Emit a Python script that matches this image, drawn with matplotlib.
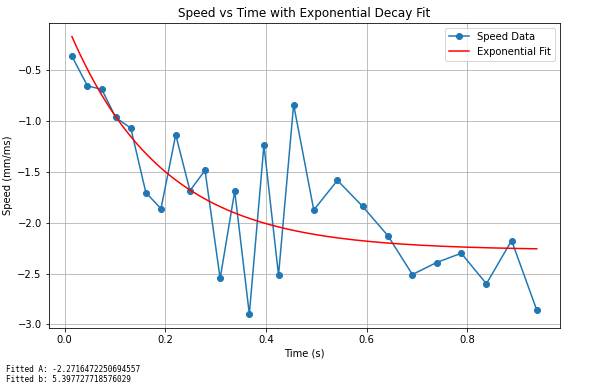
import matplotlib
matplotlib.use("Agg")
import matplotlib.pyplot as plt
import numpy as np

time_s = [0.0146, 0.0454, 0.0738, 0.1015, 0.1315, 0.1615, 0.1915, 0.2208,
          0.249, 0.279, 0.309, 0.338, 0.367, 0.396, 0.425, 0.455,
          0.495, 0.542, 0.592, 0.642, 0.691, 0.739, 0.788, 0.838, 0.888, 0.938]
speed = [-0.366, -0.657, -0.690, -0.967, -1.072, -1.706, -1.863, -1.137,
         -1.686, -1.487, -2.549, -1.690, -2.899, -1.239, -2.516, -0.840,
         -1.876, -1.585, -1.840, -2.127, -2.510, -2.392, -2.301, -2.601, -2.176, -2.859]

# fitted parameters printed below the plot
A_fit = -2.2716472250694557
b_fit = 5.397727718576029


def model(t, A, b):
    return A * (1 - np.exp(-b * t))


dpi = 72
fig = plt.figure(figsize=(608 / dpi, 387 / dpi), dpi=dpi)
ax = fig.add_axes([48.7 / 608, 1 - 328 / 387, (560 - 48.7) / 608, (328 - 22.7) / 387])

ax.plot(time_s, speed, "o-", label="Speed Data")
t_fit = np.linspace(min(time_s), max(time_s), 200)
ax.plot(t_fit, model(t_fit, A_fit, b_fit), "r-", label="Exponential Fit")

ax.set_title("Speed vs Time with Exponential Decay Fit")
ax.set_xlabel("Time (s)")
ax.set_ylabel("Speed (mm/ms)")
ax.legend(loc="upper right")
ax.grid(True)

fig.text(6 / 608, 1 - 369 / 387, f"Fitted A: {A_fit}", family="DejaVu Sans Mono",
         fontsize=7.8, va="center", ha="left")
fig.text(6 / 608, 1 - 380 / 387, f"Fitted b: {b_fit}", family="DejaVu Sans Mono",
         fontsize=7.8, va="center", ha="left")

fig.savefig("out.png", dpi=dpi)
